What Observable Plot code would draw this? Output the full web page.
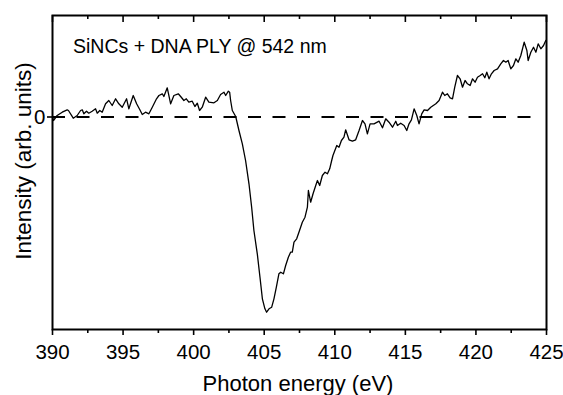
<!DOCTYPE html>
<html>
<head>
<meta charset="utf-8">
<script src="https://cdn.jsdelivr.net/npm/d3@7"></script>
<script src="https://cdn.jsdelivr.net/npm/@observablehq/plot@0.6"></script>
<style>
  html, body { margin: 0; padding: 0; background: #fff; }
  #chart { width: 563px; height: 395px; overflow: hidden; }
</style>
</head>
<body>
<div id="chart"></div>
<script>
// Photon energy (eV)
const energy = [
  390.0, 390.07, 390.33, 390.69, 391.04, 391.13, 391.47, 391.75, 391.99, 392.11,
  392.22, 392.41, 392.57, 392.81, 393.05, 393.17, 393.35, 393.52, 393.76, 393.99,
  394.23, 394.47, 394.70, 394.94, 395.25, 395.41, 395.72, 395.96, 396.19, 396.36,
  396.59, 396.83, 397.07, 397.37, 397.54, 397.78, 397.89, 398.13, 398.37, 398.60,
  398.91, 399.08, 399.31, 399.48, 399.66, 399.90, 400.09, 400.26, 400.42, 400.61,
  400.85, 401.08, 401.44, 401.68, 401.91, 402.15, 402.27, 402.46, 402.55, 402.62,
  402.74, 402.98, 403.21, 403.45, 403.68, 403.92, 404.11, 404.27, 404.51, 404.70,
  404.87, 405.05, 405.17, 405.34, 405.53, 405.69, 405.86, 406.04, 406.17, 406.36,
  406.52, 406.71, 406.87, 406.99, 407.11, 407.30, 407.46, 407.70, 407.89, 408.06,
  408.13, 408.29, 408.46, 408.65, 408.77, 408.93, 409.12, 409.31, 409.48, 409.64,
  409.78, 409.87, 410.14, 410.30, 410.47, 410.65, 410.77, 411.01, 411.25, 411.48,
  411.72, 411.96, 412.14, 412.31, 412.50, 412.78, 413.14, 413.38, 413.61, 413.84,
  414.09, 414.32, 414.44, 414.67, 414.91, 415.10, 415.26, 415.43, 415.62, 415.81,
  415.97, 416.16, 416.33, 416.57, 416.80, 417.16, 417.39, 417.63, 417.79, 417.98,
  418.17, 418.34, 418.50, 418.69, 418.88, 419.05, 419.23, 419.40, 419.59, 419.76,
  419.94, 420.11, 420.30, 420.47, 420.63, 420.77, 420.93, 421.10, 421.29, 421.53,
  421.76, 421.95, 422.12, 422.28, 422.47, 422.66, 422.83, 422.99, 423.18, 423.42,
  423.61, 423.70, 423.89, 424.08, 424.25, 424.41, 424.60, 424.79, 424.95
];
// Intensity (arb. units)
const intensity = [
  -0.02, -0.35, 0.15, 0.48, 0.72, 0.65, -0.12, 0.15, 0.65, 0.72,
  0.32, 0.58, 0.38, 0.58, 0.82, 0.38, 0.65, 0.48, 1.32, 1.65,
  1.15, 1.82, 1.32, 0.98, 1.82, 0.82, 2.15, 1.32, 0.72, 0.25,
  0.48, 0.32, 0.98, 1.82, 2.15, 2.32, 2.05, 2.92, 1.32, 2.15,
  2.32, 2.05, 1.65, 1.82, 1.48, 1.58, 1.05, 1.38, 0.65, 0.98,
  1.98, 1.48, 1.42, 1.65, 2.25, 2.48, 2.15, 2.58, 2.48, 1.65,
  0.65, 0.05, -1.35, -2.68, -4.35, -6.68, -9.02, -11.35, -13.68, -16.02,
  -18.18, -19.18, -19.52, -19.18, -19.02, -18.18, -17.02, -15.68, -15.52, -15.68,
  -14.85, -14.02, -13.52, -13.52, -12.52, -12.18, -11.52, -10.52, -10.02, -9.02,
  -7.35, -8.52, -7.68, -6.85, -6.35, -6.85, -5.85, -5.52, -5.68, -5.18,
  -4.35, -3.85, -2.85, -3.02, -2.35, -2.02, -1.28, -2.28, -2.42, -2.28,
  -1.35, -0.35, -0.68, -1.68, -0.68, -0.68, -0.42, -1.08, -0.18, -0.52,
  -1.02, -0.42, -0.85, -0.62, -0.85, -1.35, -0.68, -0.28, 0.82, 0.15,
  -0.68, 0.32, 0.72, 0.65, 0.98, 1.32, 1.65, 2.48, 2.15, 2.32,
  1.92, 1.82, 2.98, 4.15, 3.82, 2.98, 3.65, 3.32, 3.15, 3.82,
  3.48, 3.98, 4.15, 4.32, 3.92, 4.48, 3.82, 4.32, 4.65, 4.82,
  5.32, 5.65, 5.48, 5.65, 4.82, 5.15, 5.82, 5.48, 6.15, 7.48,
  6.65, 5.65, 6.48, 6.98, 6.48, 7.32, 6.82, 7.15, 7.65
];
const majorTicks = [390, 395, 400, 405, 410, 415, 420, 425];
const minorTicks = [392.5, 397.5, 402.5, 407.5, 412.5, 417.5, 422.5];
const yTicks = [0];
const baseline = [0];
const baselineEnd = 424;
const xDomain = [390, 425];
const yDomain = [-21.25, 10.15];
const annotation = "SiNCs + DNA PLY @ 542 nm";
const xLabel = "Photon energy (eV)";
const yLabel = "Intensity (arb. units)";

const data = energy.map((e, i) => ({energy: e, intensity: intensity[i]}));

const W = 563, H = 395;
const mTop = 15, mBottom = 66, mLeft = 52, mRight = 17;
const innerH = H - mTop - mBottom;

const chart = Plot.plot({
  width: W,
  height: H,
  marginTop: mTop,
  marginBottom: mBottom,
  marginLeft: mLeft,
  marginRight: mRight,
  style: {fontFamily: "'Liberation Sans', Arial, Helvetica, sans-serif", fontSize: "20.5px", color: "#000", background: "#fff"},
  x: {domain: xDomain},
  y: {domain: yDomain},
  marks: [
    Plot.ruleY(baseline, {x1: xDomain[0], x2: baselineEnd, stroke: "#000", strokeWidth: 2, strokeDasharray: "13,11.5"}),
    Plot.line(data, {x: "energy", y: "intensity", stroke: "#000", strokeWidth: 1.3}),
    Plot.axisX(majorTicks, {anchor: "bottom", tickSize: 6, tickPadding: 9, strokeWidth: 1.6, fontSize: 20.5, label: null, tickFormat: d => String(d)}),
    Plot.axisX(minorTicks, {anchor: "bottom", tickSize: 4, strokeWidth: 1.6, text: null, label: null}),
    Plot.tickX(majorTicks, {x: d => d, insetBottom: innerH - 7, stroke: "#000", strokeWidth: 1.6}),
    Plot.tickX(minorTicks, {x: d => d, insetBottom: innerH - 4, stroke: "#000", strokeWidth: 1.6}),
    Plot.axisY(yTicks, {anchor: "left", tickSize: 5, tickPadding: 2, strokeWidth: 1.6, fontSize: 20.5, label: null, tickFormat: d => String(d)}),
    Plot.frame({stroke: "#000", strokeWidth: 2}),
    Plot.text([annotation], {frameAnchor: "top-left", dx: 20.5, dy: 24, textAnchor: "start", lineAnchor: "top", fontSize: 19.5, fill: "#000"}),
    Plot.text([xLabel], {frameAnchor: "bottom", dx: -1.5, dy: 61, lineAnchor: "bottom", fontSize: 22, fill: "#000"}),
    Plot.text([yLabel], {frameAnchor: "left", rotate: -90, dx: -21.3, dy: -11.5, textAnchor: "middle", lineAnchor: "bottom", fontSize: 22.5, fill: "#000"})
  ]
});
document.getElementById("chart").appendChild(chart);
</script>
</body>
</html>
